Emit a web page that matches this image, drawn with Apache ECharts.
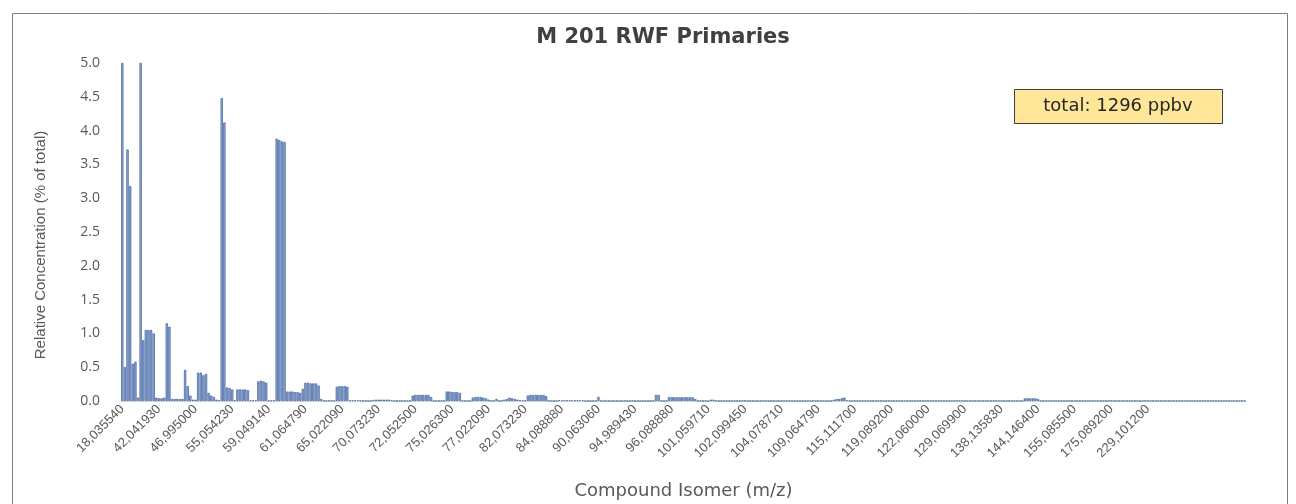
<!DOCTYPE html>
<html>
<head>
<meta charset="utf-8">
<title>M 201 RWF Primaries</title>
<script src="https://cdn.jsdelivr.net/npm/echarts@6/dist/echarts.min.js"></script>
<style>
html,body{margin:0;padding:0;background:#fff;}
#chart_M{width:1296px;height:504px;}
</style>
</head>
<body>
<div id="chart_M"></div>
<script>

// x轴 labels (every 14th isomer is labelled)
var tickLabels = ['18,035540','42,041930','46,995000','55,054230','59,049140','61,064790','65,022090',
    '70,073230','72,052500','75,026300','77,022090','82,073230','84,088880','90,063060','94,989430',
    '96,088880','101,059710','102,099450','104,078710','109,064790','115,111700','119,089200',
    '122,060000','129,069900','138,135830','144,146400','155,085500','175,089200','229,101200'];
var labelStep = 14;

// relative concentration (% of total), one per isomer
var relConc = [
    5.0,0.5,3.72,3.18,0.55,0.58,0.05,5.0,0.9,1.05, 1.05,1.05,1.0,0.05,0.04,0.04,0.05,1.15,1.1,0.03,
    0.03,0.03,0.03,0.03,0.46,0.22,0.08,0.02,0.02,0.42, 0.42,0.38,0.4,0.12,0.08,0.06,0.02,0.01,4.48,4.12,
    0.2,0.19,0.17,0.01,0.17,0.17,0.17,0.17,0.16,0.01, 0.01,0.01,0.29,0.3,0.29,0.27,0.01,0.01,0.01,3.88,
    3.86,3.84,3.83,0.14,0.14,0.14,0.13,0.13,0.12,0.18, 0.27,0.27,0.26,0.26,0.26,0.23,0.03,0.005,0.005,0.005,
    0.005,0.005,0.21,0.22,0.22,0.22,0.21,0.01,0.01,0.01, 0.01,0.01,0.003,0.003,0.003,0.003,0.015,0.02,0.02,0.02,
    0.02,0.02,0.02,0.01,0.003,0.003,0.003,0.003,0.003,0.003, 0.003,0.08,0.09,0.09,0.09,0.09,0.09,0.09,0.06,0.003,
    0.003,0.003,0.003,0.003,0.14,0.14,0.13,0.13,0.13,0.12, 0.003,0.003,0.003,0.003,0.05,0.06,0.06,0.06,0.05,0.04,
    0.02,0.003,0.003,0.03,0.003,0.003,0.02,0.03,0.05,0.04, 0.03,0.02,0.01,0.01,0.01,0.08,0.09,0.09,0.09,0.09,
    0.09,0.09,0.07,0.003,0.003,0.003,0.003,0.01,0.01,0.01, 0.01,0.01,0.01,0.01,0.01,0.01,0.01,0.002,0.002,0.002,
    0.002,0.002,0.06,0.002,0.002,0.002,0.002,0.002,0.002,0.002, 0.002,0.002,0.002,0.002,0.002,0.002,0.002,0.002,0.002,0.002,
    0.002,0.002,0.002,0.002,0.09,0.09,0.002,0.002,0.002,0.06, 0.055,0.055,0.055,0.055,0.055,0.055,0.055,0.055,0.055,0.03,
    0.002,0.002,0.002,0.002,0.002,0.02,0.02,0.002,0.002,0.002, 0.002,0.002,0.002,0.002,0.002,0.002,0.002,0.002,0.002,0.002,
    0.002,0.002,0.002,0.002,0.002,0.002,0.004,0.002,0.002,0.002, 0.002,0.002,0.002,0.002,0.004,0.002,0.002,0.002,0.002,0.002,
    0.002,0.002,0.002,0.002,0.002,0.002,0.002,0.002,0.002,0.002, 0.002,0.002,0.02,0.03,0.03,0.04,0.05,0.01,0.003,0.003,
    0.003,0.003,0.003,0.003,0.003,0.003,0.003,0.003,0.003,0.003, 0.003,0.003,0.003,0.003,0.003,0.003,0.003,0.003,0.003,0.003,
    0.003,0.003,0.003,0.003,0.003,0.003,0.003,0.003,0.003,0.003, 0.003,0.003,0.003,0.003,0.003,0.003,0.003,0.003,0.003,0.003,
    0.003,0.003,0.003,0.003,0.003,0.003,0.003,0.003,0.003,0.003, 0.003,0.003,0.003,0.003,0.003,0.003,0.003,0.003,0.003,0.003,
    0.003,0.003,0.003,0.003,0.003,0.04,0.04,0.04,0.04,0.04, 0.03,0.003,0.003,0.003,0.003,0.003,0.003,0.003,0.003,0.003,
    0.003,0.003,0.003,0.003,0.003,0.003,0.003,0.003,0.003,0.003, 0.003,0.003,0.003,0.003,0.003,0.003,0.003,0.003,0.003,0.003,
    0.003,0.003,0.003,0.003,0.003,0.003,0.003,0.003,0.003,0.003, 0.003,0.003,0.003,0.003,0.003,0.003,0.003,0.003,0.003,0.003,
    0.003,0.003,0.003,0.003,0.003,0.003,0.003,0.003,0.003,0.003, 0.003,0.003,0.003,0.003,0.003,0.003,0.003,0.003,0.003,0.003,
    0.003,0.003,0.003,0.003,0.003,0.003,0.003,0.003,0.003,0.003
];

var totalText = 'total: 1296 ppbv';
var yTitle = 'Relative Concentration (% of total)';

var isomerIdx = [];
for (var i = 0; i < relConc.length; i++) {
    isomerIdx.push(String(i));
}

var myChart = echarts.init(document.getElementById('chart_M'));
var option = {
    backgroundColor: '#fff',
    animation: false,
    title: {
        text: 'M 201 RWF Primaries',
        left: 658,
        textAlign: 'center',
        top: 22,
        textStyle: {
            fontFamily: 'DejaVu Sans',
            fontSize: 21,
            fontWeight: 'bold',
            color: '#404040'
        }
    },
    grid: {
        left: 121,
        right: 1296 - 1246,
        top: 63,
        bottom: 504 - 401,
        outerBoundsMode: 'none'
    },
    xAxis: {
        type: 'category',
        data: isomerIdx,
        name: 'Compound Isomer (m/z)',
        nameLocation: 'middle',
        nameGap: 81,
        nameTextStyle: {
            fontFamily: 'DejaVu Sans',
            fontSize: 18,
            color: '#595959'
        },
        axisLine: {lineStyle: {color: '#d9d9d9', width: 1}},
        axisTick: {show: false},
        axisLabel: {
            rotate: 45,
            margin: 6,
            interval: function (index) {
                return index % labelStep === 0 && index / labelStep < tickLabels.length;
            },
            formatter: function (value, index) {
                return tickLabels[index / labelStep] || '';
            },
            fontFamily: 'Liberation Sans',
            fontSize: 13,
            color: '#595959'
        }
    },
    yAxis: {
        type: 'value',
        min: 0,
        max: 5,
        interval: 0.5,
        axisLine: {show: false},
        axisTick: {show: false},
        splitLine: {show: false},
        axisLabel: {
            margin: 21,
            formatter: function (v) { return v.toFixed(1); },
            fontFamily: 'Open Sans',
            fontSize: 14,
            color: '#595959'
        }
    },
    series: [{
        name: 'Relative Concentration',
        type: 'bar',
        data: relConc,
        barCategoryGap: '12%',
        itemStyle: {
            color: '#8eaadb',
            borderColor: '#3f5f9a',
            borderWidth: 0.7
        }
    }],
    graphic: [
        {
            type: 'rect',
            left: 10,
            top: 11,
            shape: {width: 1275, height: 500},
            style: {fill: null, stroke: '#7f7f7f', lineWidth: 1}
        },
        {
            // y axis title, placed like the original
            type: 'text',
            x: 41,
            y: 245,
            rotation: Math.PI / 2,
            style: {
                text: yTitle,
                fontFamily: 'Liberation Sans',
                fontSize: 15,
                fill: '#595959',
                align: 'center',
                verticalAlign: 'middle'
            }
        },
        {
            type: 'rect',
            left: 1014,
            top: 89,
            shape: {width: 208, height: 34},
            style: {fill: '#ffe699', stroke: '#404040', lineWidth: 1}
        },
        {
            type: 'text',
            x: 1118,
            y: 106,
            style: {
                text: totalText,
                fontFamily: 'DejaVu Sans',
                fontSize: 18,
                fill: '#262626',
                align: 'center',
                verticalAlign: 'middle'
            }
        }
    ]
};

myChart.setOption(option);

</script>
</body>
</html>
